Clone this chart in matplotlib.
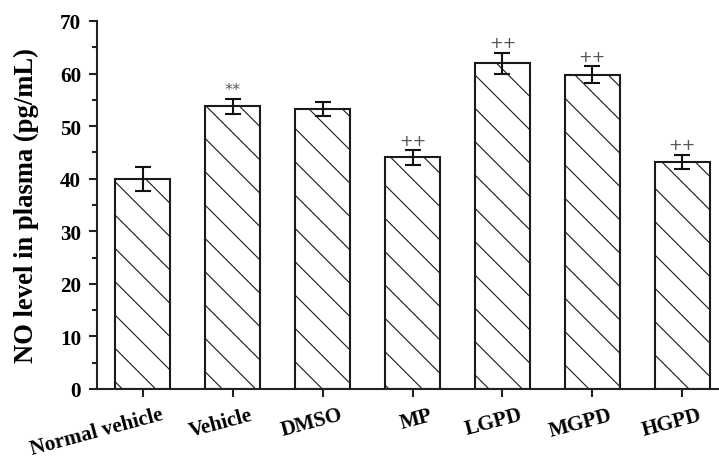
import matplotlib
matplotlib.use("Agg")
import matplotlib.pyplot as plt
import numpy as np
from matplotlib.ticker import MultipleLocator
from matplotlib.transforms import ScaledTranslation

# data
groups = ["Normal vehicle", "Vehicle", "DMSO", "MP", "LGPD", "MGPD", "HGPD"]
no_level = [40.0, 53.8, 53.2, 44.1, 62.0, 59.8, 43.2]
no_err = [2.3, 1.4, 1.3, 1.4, 2.0, 1.6, 1.4]
marks = ["", "**", "", "++", "++", "++", "++"]

plt.rcParams['font.family'] = ['Liberation Serif', 'DejaVu Serif']
plt.rcParams['hatch.linewidth'] = 0.4
plt.rcParams['hatch.color'] = '#2a2a2a'

DPI = 200
fig = plt.figure(figsize=(719 / DPI, 464 / DPI), dpi=DPI)
ax = fig.add_axes([0.135, 0.1595, 0.865, 0.7931])

x = np.arange(len(groups))
ax.bar(x, no_level, width=0.61, color='white', edgecolor='#1a1a1a',
       linewidth=0.75, hatch='\\\\', zorder=2)
ax.errorbar(x, no_level, yerr=no_err, fmt='none', ecolor='#111111',
            elinewidth=0.75, capsize=3.0, capthick=0.75, zorder=3)

for xi, v, e, m in zip(x, no_level, no_err, marks):
    if m:
        ax.text(xi, v + e + 0.4, m, ha='center', va='bottom', fontsize=5.8,
                color='#555555', family=['DejaVu Sans'])

ax.set_ylim(0, 70)
ax.set_xlim(-0.51, 6.41)
ax.yaxis.set_major_locator(MultipleLocator(10))
ax.yaxis.set_minor_locator(MultipleLocator(5))
ax.spines['top'].set_visible(False)
ax.spines['right'].set_visible(False)
for s in ['left', 'bottom']:
    ax.spines[s].set_linewidth(0.75)
    ax.spines[s].set_color('#222222')

ax.tick_params(axis='both', which='major', direction='out', length=2.8,
               width=0.75, color='#222222')
ax.tick_params(axis='y', which='minor', direction='out', length=1.8,
               width=0.75, color='#222222')
ax.tick_params(axis='y', labelsize=7.6, pad=3)
ax.tick_params(axis='x', labelsize=7.6, pad=2.8)

ax.set_xticks(x)
ax.set_xticklabels(groups, rotation=15, ha='right', fontweight='bold')
offset = ScaledTranslation(22 / DPI, 0, fig.dpi_scale_trans)
for lab in ax.get_xticklabels():
    lab.set_transform(lab.get_transform() + offset)
for lab in ax.get_yticklabels():
    lab.set_fontweight('bold')

ax.set_ylabel("NO level in plasma (pg/mL)", fontsize=9.6, fontweight='bold',
              labelpad=7.5)

fig.savefig("out.png", dpi=DPI)
